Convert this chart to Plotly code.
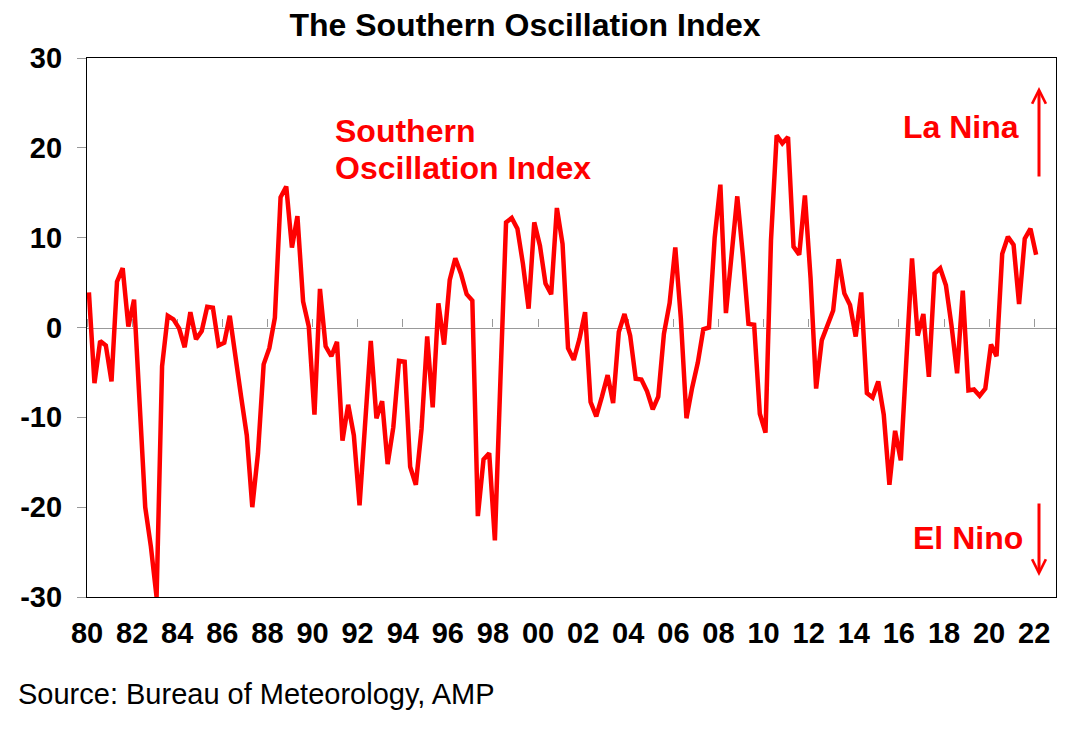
import pandas as pd
import plotly.graph_objects as go

# Quarterly Southern Oscillation Index readings, 1980 Q1 .. 2022 Q1
soi = [
    3.9, -6.2, -1.5, -2.0, -6.0, 5.1, 6.6, 0.1, 3.1, -8.9,
    -20.0, -24.4, -30.0, -4.3, 1.3, 0.9, -0.1, -2.2, 1.7, -1.3,
    -0.4, 2.3, 2.2, -2.0, -1.7, 1.3, -3.5, -7.7, -12.0, -20.0,
    -14.0, -4.1, -2.3, 1.1, 14.5, 15.7, 8.9, 12.4, 2.9, 0.1,
    -9.7, 4.3, -2.1, -3.2, -1.6, -12.6, -8.6, -12.0, -19.8, -10.5,
    -1.5, -10.1, -8.2, -15.2, -11.1, -3.7, -3.8, -15.5, -17.5, -11.3,
    -1.0, -8.9, 2.7, -1.9, 5.3, 7.7, 6.0, 3.7, 3.0, -21.0,
    -14.7, -14.0, -23.7, -6.0, 11.7, 12.2, 11.0, 7.1, 2.1, 11.7,
    9.1, 4.9, 3.7, 13.3, 9.3, -2.3, -3.6, -1.3, 1.7, -8.3,
    -9.9, -7.7, -5.3, -8.4, -0.5, 1.5, -0.9, -5.7, -5.8, -7.1,
    -9.1, -7.7, -0.7, 2.7, 8.9, 1.1, -10.1, -6.7, -3.9, -0.2,
    0.0, 10.0, 15.9, 1.6, 7.8, 14.6, 7.9, 0.4, 0.3, -9.6,
    -11.7, 9.7, 21.4, 20.5, 21.2, 9.0, 8.1, 14.7, 5.5, -6.8,
    -1.4, 0.1, 1.9, 7.6, 3.8, 2.5, -1.0, 3.9, -7.3, -7.8,
    -6.0, -9.7, -17.5, -11.5, -14.8, -3.7, 7.7, -0.9, 1.5, -5.5,
    6.0, 6.6, 4.7, 0.3, -5.1, 4.1, -7.0, -6.9, -7.6, -6.8,
    -1.9, -3.2, 8.2, 10.1, 9.2, 2.6, 9.9, 11.0, 8.1,
]
dates = pd.date_range("1980-02-01", periods=len(soi), freq="3MS")

tick_years = list(range(1980, 2023, 2))
tick_labels = ["80", "82", "84", "86", "88", "90", "92", "94", "96", "98", "00",
               "02", "04", "06", "08", "10", "12", "14", "16", "18", "20", "22"]
tick_dates = [f"{y}-01-01" for y in tick_years]
y_ticks = [30, 20, 10, 0, -10, -20, -30]
y_labels = ["30", "20", "10", "0", "-10", "-20", "-30"]

x_range = ["1980-01-01", "2022-12-20"]
FONT = "Liberation Sans, Arial, sans-serif"
RED = "#FF0000"

# page body has an 8px margin; figure is sized so the plot sits where the reference has it
OFF = 8
W, H = 1080 - OFF * 2, 740 - OFF * 2
PL, PR, PT, PB = 87, 1056, 58, 597  # plot box in screen pixels

fig = go.Figure()
fig.add_trace(go.Scatter(
    x=dates, y=soi, mode="lines",
    line=dict(color=RED, width=4.5),
    showlegend=False, hoverinfo="skip",
))
# transparent copy on the overlay axis so the zero-line tick axis is drawn
fig.add_trace(go.Scatter(
    x=dates, y=soi, mode="lines", xaxis="x2",
    line=dict(color="rgba(0,0,0,0)", width=0),
    showlegend=False, hoverinfo="skip",
))

fig.update_layout(
    width=W, height=H,
    margin=dict(l=PL - OFF, r=W + OFF - PR, t=PT - OFF, b=H + OFF - PB),
    paper_bgcolor="white", plot_bgcolor="white",
    font=dict(family=FONT, color="black"),
    title=dict(
        text="The Southern Oscillation Index",
        font=dict(size=32, weight="bold", family=FONT, color="black"),
        x=(525 - OFF) / W, xanchor="center", xref="container",
        y=1 - (25 - OFF) / H, yanchor="middle", yref="container",
    ),
    xaxis=dict(
        type="date", range=x_range,
        tickvals=tick_dates, ticktext=tick_labels,
        ticks="", showgrid=False, zeroline=False,
        showline=True, linecolor="black", linewidth=1.2, mirror=True,
        tickfont=dict(size=29, weight="bold", family=FONT),
        ticklabelstandoff=10,
    ),
    xaxis2=dict(
        type="date", range=x_range, overlaying="x", anchor="free",
        position=0.5, side="top",
        tickvals=tick_dates, showticklabels=False,
        ticks="outside", ticklen=8, tickcolor="#999999", tickwidth=1.3,
        showline=True, linecolor="#999999", linewidth=1.3,
        showgrid=False, zeroline=False, layer="below traces",
    ),
    yaxis=dict(
        range=[-30, 30], tickvals=y_ticks, ticktext=y_labels,
        ticks="outside", ticklen=9, tickcolor="#999999", tickwidth=1.3,
        showgrid=False, zeroline=False,
        showline=True, linecolor="black", linewidth=1.2, mirror=True,
        tickfont=dict(size=29, weight="bold", family=FONT),
        ticklabelstandoff=9,
    ),
)

def px_x(px):
    return (px - PL) / (PR - PL)

def px_y(py):
    return (PB - py) / (PB - PT)

annots = [
    dict(text="Southern", x=px_x(333), y=px_y(131), xanchor="left"),
    dict(text="Oscillation Index", x=px_x(333), y=px_y(168), xanchor="left"),
    dict(text="La Nina", x=px_x(1021), y=px_y(127), xanchor="right"),
    dict(text="El Nino", x=px_x(1025), y=px_y(538), xanchor="right"),
]
for a in annots:
    fig.add_annotation(
        text=a["text"], x=a["x"], y=a["y"], xref="paper", yref="paper",
        xanchor=a["xanchor"], yanchor="middle", showarrow=False,
        font=dict(size=32, weight="bold", color=RED, family=FONT),
    )

# Direction arrows
fig.add_annotation(
    x=px_x(1039), y=px_y(87), xref="paper", yref="paper",
    ax=0, ay=91, axref="pixel", ayref="pixel", text="",
    showarrow=True, arrowhead=5, arrowsize=0.9, arrowwidth=3, arrowcolor=RED,
)
fig.add_annotation(
    x=px_x(1039), y=px_y(576), xref="paper", yref="paper",
    ax=0, ay=-74, axref="pixel", ayref="pixel", text="",
    showarrow=True, arrowhead=5, arrowsize=0.9, arrowwidth=3, arrowcolor=RED,
)

fig.add_annotation(
    text="Source: Bureau of Meteorology, AMP",
    x=px_x(16), y=px_y(694), xref="paper", yref="paper",
    xanchor="left", yanchor="middle", showarrow=False,
    font=dict(size=29, color="black", family=FONT),
)

fig.write_html("out.html")
